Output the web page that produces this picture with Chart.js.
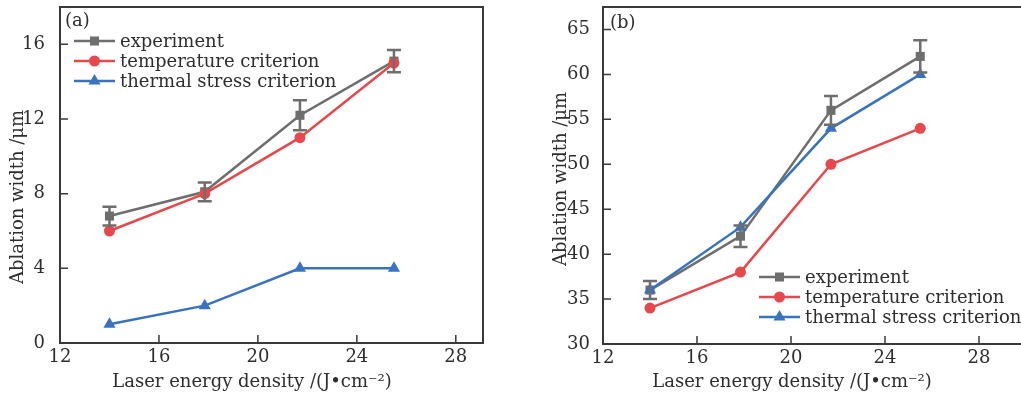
<!DOCTYPE html>
<html><head><meta charset="utf-8">
<script src="https://cdn.jsdelivr.net/npm/chart.js@4.4.1/dist/chart.umd.min.js"></script>
<style>
html,body{margin:0;padding:0;overflow:hidden;background:#fff;width:1021px;height:399px}
#ca{position:absolute;left:0;top:0}
#cb{position:absolute;left:510px;top:0}
</style></head><body>
<canvas id="ca" width="500" height="399"></canvas>
<canvas id="cb" width="523" height="399"></canvas>
<script>
// ---- data ----
const energy = [14.0, 17.85, 21.7, 25.5];
const expA = [6.8, 8.1, 12.2, 15.1];
const expErrA = [0.5, 0.5, 0.8, 0.6];
const tempA = [6, 8, 11, 15];
const stressA = [1, 2, 4, 4];
const expB = [36, 42, 56, 62];
const expErrB = [1.0, 1.2, 1.6, 1.8];
const tempB = [34, 38, 50, 54];
const stressB = [36, 43, 54, 60];
const xTicks = [12, 16, 20, 24, 28];
const yTicksA = [0, 4, 8, 12, 16];
const yTicksB = [30, 35, 40, 45, 50, 55, 60, 65];
const seriesNames = ['experiment', 'temperature criterion', 'thermal stress criterion'];
const xTitle = 'Laser energy density /(J\u2022cm\u207B\u00B2)';
const yTitle = 'Ablation width /\u03BCm';

// ---- styles ----
const FONT = '"DejaVu Serif", serif';
const TXT = '#2e2e2e';
const AX = '#3a3a3a';
const GREY = '#6e6e6e', RED = '#e8474c', BLUE = '#3a72c2';
const styles = [
  {color: GREY, pointStyle: 'rect', radius: 6.4},
  {color: RED, pointStyle: 'circle', radius: 5.5},
  {color: BLUE, pointStyle: 'triangle', radius: 7}
];

function pts(xs, ys){ return xs.map((x,i)=>({x:x, y:ys[i]})); }

const decor = {
  id: 'decor',
  beforeDatasetsDraw(chart, args, o){
    const ctx = chart.ctx, a = chart.chartArea;
    const xs = chart.scales.x, ys = chart.scales.y;
    ctx.save();
    ctx.strokeStyle = AX; ctx.lineWidth = 2;
    ctx.beginPath();
    ctx.moveTo(a.left, a.top); ctx.lineTo(a.right, a.top); ctx.lineTo(a.right, a.bottom);
    ctx.stroke();
    ctx.lineWidth = 1.5;
    ctx.beginPath();
    xTicks.forEach(v=>{ const p = xs.getPixelForValue(v); ctx.moveTo(p, a.bottom); ctx.lineTo(p, a.bottom-8); });
    o.yTicks.forEach(v=>{ const p = ys.getPixelForValue(v); ctx.moveTo(a.left, p); ctx.lineTo(a.left+8, p); });
    ctx.stroke();
    ctx.restore();
  },
  afterDatasetsDraw(chart, args, o){
    const ctx = chart.ctx;
    const xs = chart.scales.x, ys = chart.scales.y;
    ctx.save();
    // error bars
    ctx.strokeStyle = GREY; ctx.lineWidth = 2.5;
    ctx.beginPath();
    energy.forEach((e,i)=>{
      const px = xs.getPixelForValue(e);
      const y1 = ys.getPixelForValue(o.exp[i]+o.err[i]);
      const y2 = ys.getPixelForValue(o.exp[i]-o.err[i]);
      ctx.moveTo(px, y1); ctx.lineTo(px, y2);
      ctx.moveTo(px-7, y1); ctx.lineTo(px+7, y1);
      ctx.moveTo(px-7, y2); ctx.lineTo(px+7, y2);
    });
    ctx.stroke();
    // legend
    ctx.font = '18px ' + FONT;
    ctx.textBaseline = 'middle';
    ctx.textAlign = 'left';
    chart.data.datasets.forEach((d,i)=>{
      const s = styles[i];
      const y = o.legY + i*20;
      ctx.strokeStyle = s.color; ctx.lineWidth = 2.5;
      ctx.beginPath(); ctx.moveTo(o.legX, y); ctx.lineTo(o.legX+41, y); ctx.stroke();
      ctx.fillStyle = s.color;
      Chart.helpers.drawPoint(ctx, {pointStyle: s.pointStyle, radius: s.radius, rotation: 0, borderWidth: 0}, o.legX+20.5, y);
      ctx.fillStyle = TXT;
      ctx.fillText(d.label, o.legX+46, y+1);
    });
    // panel label
    ctx.fillStyle = TXT;
    ctx.fillText(o.panel, o.panelX, o.panelY);
    // axis titles
    ctx.textAlign = 'center';
    ctx.fillText(xTitle, o.xtX, o.xtY);
    ctx.translate(o.ytX, o.ytY);
    ctx.rotate(-Math.PI/2);
    ctx.fillText(yTitle, 0, 0);
    ctx.restore();
  }
};

function makeChart(id, cfg){
  const datasets = [cfg.exp, cfg.temp, cfg.stress].map((vals,i)=>({
    label: seriesNames[i],
    data: pts(energy, vals),
    borderColor: styles[i].color,
    backgroundColor: styles[i].color,
    pointBackgroundColor: styles[i].color,
    pointBorderWidth: 0,
    pointStyle: styles[i].pointStyle,
    pointRadius: styles[i].radius,
    borderWidth: 2.5,
    tension: 0,
    fill: false,
    order: 3 - i
  }));
  return new Chart(document.getElementById(id), {
    type: 'line',
    data: {datasets},
    plugins: [decor],
    options: {
      responsive: false,
      animation: false,
      events: [],
      layout: {padding: cfg.pad},
      plugins: {
        legend: {display: false},
        tooltip: {enabled: false},
        decor: cfg.decor
      },
      scales: {
        x: {
          type: 'linear', min: 12, max: cfg.xMax,
          afterBuildTicks: s => { s.ticks = xTicks.map(v=>({value:v})); },
          afterFit: s => { s.height = cfg.xH; s.paddingLeft = 0; s.paddingRight = 0; },
          grid: {display: false},
          border: {display: true, color: AX, width: 2},
          ticks: {font: {family: FONT, size: 18}, color: TXT, padding: -4, maxRotation: 0, autoSkip: false}
        },
        y: {
          type: 'linear', min: cfg.yMin, max: cfg.yMax,
          afterBuildTicks: s => { s.ticks = cfg.decor.yTicks.map(v=>({value:v})); },
          afterFit: s => { s.width = cfg.yW; s.paddingTop = 0; s.paddingBottom = 0; },
          grid: {display: false},
          border: {display: true, color: AX, width: 2},
          ticks: {font: {family: FONT, size: 18}, color: TXT, padding: cfg.yPad, autoSkip: false}
        }
      }
    }
  });
}

makeChart('ca', {
  exp: expA, temp: tempA, stress: stressA,
  xMax: 29.1, yMin: 0, yMax: 18, xH: 56, yW: 60, yPad: 7,
  pad: {left: 0, top: 5, right: 17, bottom: 0},
  decor: {yTicks: yTicksA, exp: expA, err: expErrA, legX: 74, legY: 41,
          panel: '(a)', panelX: 65, panelY: 21, xtX: 252, xtY: 382, ytX: 18, ytY: 197}
});
makeChart('cb', {
  exp: expB, temp: tempB, stress: stressB,
  xMax: 30, yMin: 30, yMax: 67.5, xH: 55, yW: 93, yPad: 5,
  pad: {left: 0, top: 6, right: 2, bottom: 0},
  decor: {yTicks: yTicksB, exp: expB, err: expErrB, legX: 249, legY: 277,
          panel: '(b)', panelX: 100, panelY: 23, xtX: 282, xtY: 382, ytX: 51, ytY: 179}
});
</script>
</body></html>
